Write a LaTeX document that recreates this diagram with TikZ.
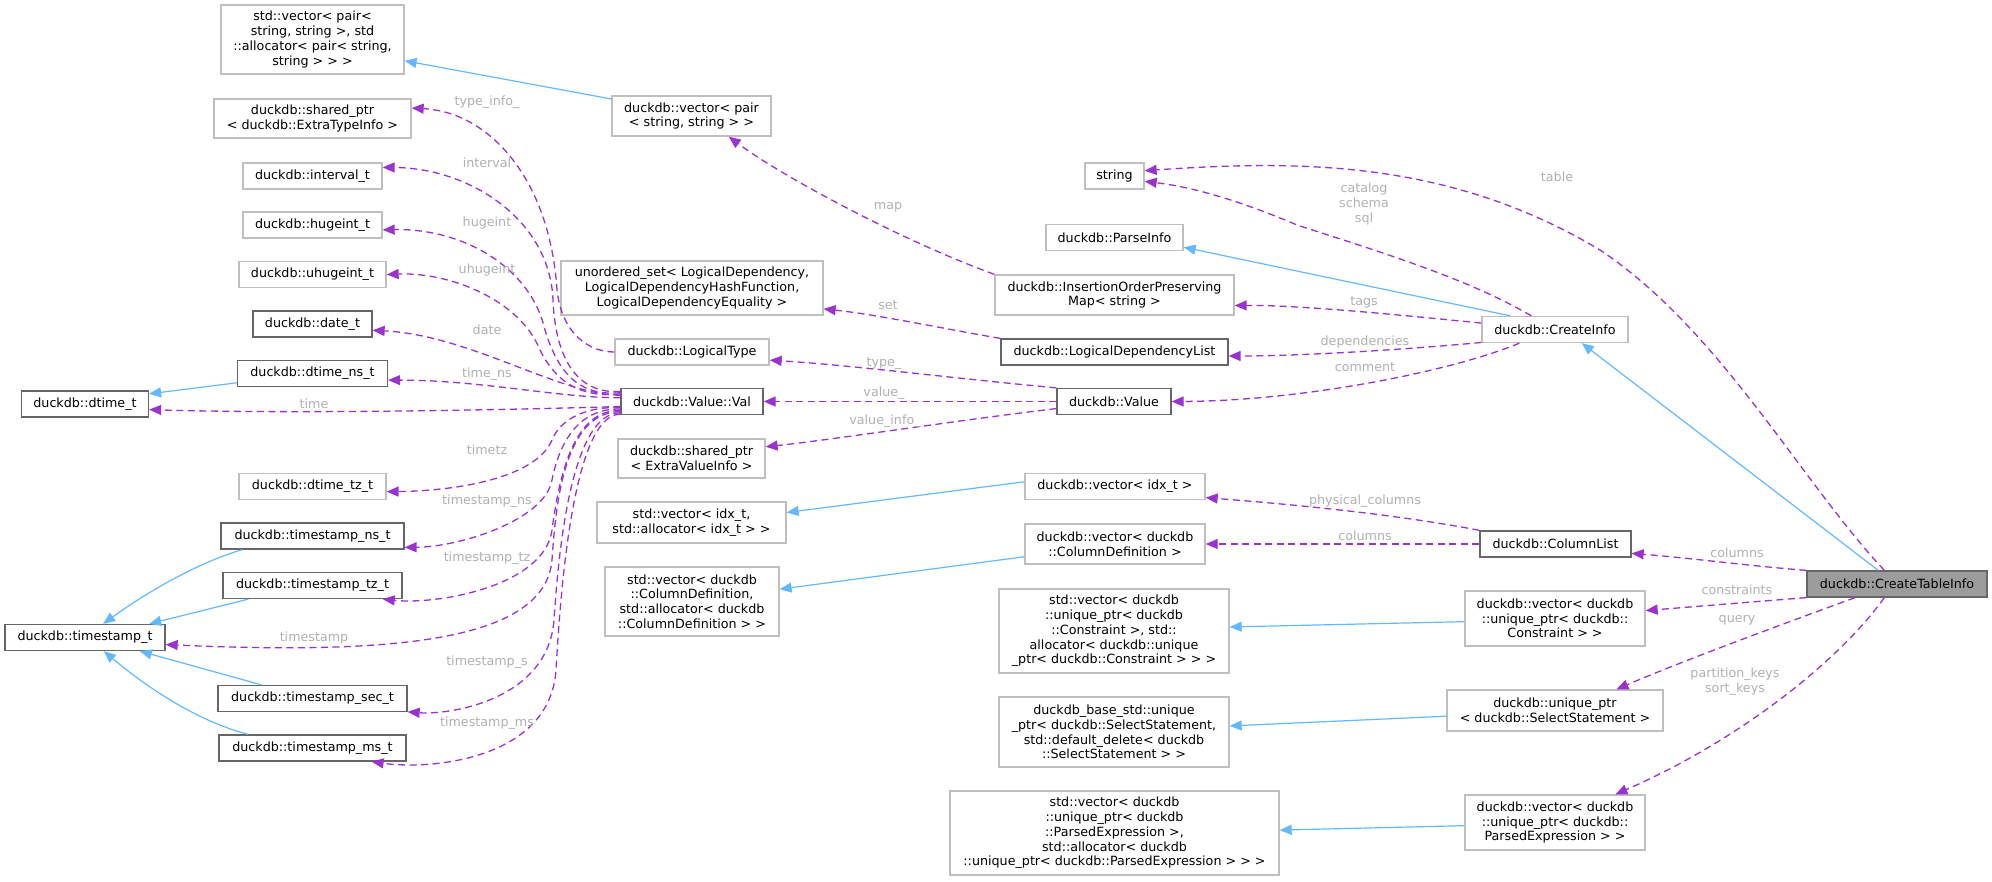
\documentclass[tikz,border=0pt]{standalone}
\usepackage{fontspec}
\setmainfont{DejaVu Sans}
\usetikzlibrary{arrows.meta}
\definecolor{lb}{HTML}{BFBFBF}
\definecolor{db}{HTML}{666666}
\definecolor{pu}{HTML}{9A32CD}
\definecolor{bl}{HTML}{63B8FF}
\definecolor{lbl}{HTML}{B0B0B0}
\begin{document}
\begin{tikzpicture}[x=1pt,y=-1pt,
  every node/.style={font=\fontsize{12.7}{14.7}\selectfont, align=center, inner sep=0pt},
  lt/.style={draw=lb, line width=1.3pt, fill=white},
  dk/.style={draw=db, line width=1.3pt, fill=white},
  tip/.style={-{Triangle[length=12pt,width=10pt]}},
  inh/.style={tip, draw=bl, line width=1.2pt},
  mem/.style={tip, draw=pu, line width=1.3pt, dash pattern=on 7pt off 4.5pt},
  lab/.style={text=lbl}]
\useasboundingbox (0,0) rectangle (1992,881);
% left column
\node[lt, minimum width=183pt, minimum height=69pt] (stdvecpair) at (312.5,39.5) {std::vector< pair<\\string, string >, std\\::allocator< pair< string,\\string > > >};
\node[lt, minimum width=197pt, minimum height=39pt] (sharedET) at (312.5,118.5) {duckdb::shared\_ptr\\< duckdb::ExtraTypeInfo >};
\node[lt, minimum width=139pt, minimum height=26pt] (interval) at (312.5,176) {duckdb::interval\_t};
\node[lt, minimum width=139pt, minimum height=26pt] (hugeint) at (312.5,225) {duckdb::hugeint\_t};
\node[lt, minimum width=147pt, minimum height=26pt] (uhugeint) at (312.5,274.5) {duckdb::uhugeint\_t};
\node[dk, minimum width=119pt, minimum height=26pt] (date) at (312.5,324) {duckdb::date\_t};
\node[dk, minimum width=150pt, minimum height=26pt] (dtimens) at (312.5,373.5) {duckdb::dtime\_ns\_t};
\node[dk, minimum width=127pt, minimum height=26pt] (dtime) at (85,404) {duckdb::dtime\_t};
\node[lt, minimum width=147pt, minimum height=26pt] (dtimetz) at (312.5,486.5) {duckdb::dtime\_tz\_t};
\node[dk, minimum width=183pt, minimum height=26pt] (tsns) at (312.5,536) {duckdb::timestamp\_ns\_t};
\node[dk, minimum width=179pt, minimum height=26pt] (tstz) at (312.5,585.5) {duckdb::timestamp\_tz\_t};
\node[dk, minimum width=160pt, minimum height=26pt] (ts) at (85,637.5) {duckdb::timestamp\_t};
\node[dk, minimum width=189pt, minimum height=26pt] (tssec) at (312.5,698.5) {duckdb::timestamp\_sec\_t};
\node[dk, minimum width=187pt, minimum height=26pt] (tsms) at (312.5,748) {duckdb::timestamp\_ms\_t};
% middle column
\node[lt, minimum width=159pt, minimum height=40pt] (vecpair) at (691.5,116) {duckdb::vector< pair\\< string, string > >};
\node[lt, minimum width=262pt, minimum height=54pt] (uset) at (692,288) {unordered\_set< LogicalDependency,\\LogicalDependencyHashFunction,\\LogicalDependencyEquality >};
\node[lt, minimum width=154pt, minimum height=26pt] (logtype) at (692,352) {duckdb::LogicalType};
\node[dk, minimum width=142pt, minimum height=26pt] (val) at (692,401.5) {duckdb::Value::Val};
\node[lt, minimum width=147pt, minimum height=39pt] (sev) at (691.5,458.5) {duckdb::shared\_ptr\\< ExtraValueInfo >};
\node[lt, minimum width=189pt, minimum height=41pt] (sidx) at (691.5,522.5) {std::vector< idx\_t,\\std::allocator< idx\_t > >};
\node[lt, minimum width=174pt, minimum height=69pt] (scd) at (692,601.5) {std::vector< duckdb\\::ColumnDefinition,\\std::allocator< duckdb\\::ColumnDefinition > >};
% center-right column
\node[lt, minimum width=59pt, minimum height=26pt] (string) at (1114.5,176) {string};
\node[lt, minimum width=137pt, minimum height=26pt] (parse) at (1114.5,237.5) {duckdb::ParseInfo};
\node[lt, minimum width=239pt, minimum height=40pt] (iop) at (1114.5,295) {duckdb::InsertionOrderPreserving\\Map< string >};
\node[dk, minimum width=227pt, minimum height=26pt] (ldl) at (1114.5,352) {duckdb::LogicalDependencyList};
\node[dk, minimum width=114pt, minimum height=26pt] (value) at (1114,401.5) {duckdb::Value};
\node[lt, minimum width=180pt, minimum height=26pt] (vidx) at (1115,486.5) {duckdb::vector< idx\_t >};
\node[lt, minimum width=180pt, minimum height=40pt] (vcd) at (1115,544) {duckdb::vector< duckdb\\::ColumnDefinition >};
\node[lt, minimum width=230pt, minimum height=84pt] (scons) at (1114,631) {std::vector< duckdb\\::unique\_ptr< duckdb\\::Constraint >, std::\\allocator< duckdb::unique\\\_ptr< duckdb::Constraint > > >};
\node[lt, minimum width=230pt, minimum height=70pt] (sbase) at (1114,732) {duckdb\_base\_std::unique\\\_ptr< duckdb::SelectStatement,\\std::default\_delete< duckdb\\::SelectStatement > >};
\node[lt, minimum width=329pt, minimum height=84pt] (spe) at (1114.5,833) {std::vector< duckdb\\::unique\_ptr< duckdb\\::ParsedExpression >,\\std::allocator< duckdb\\::unique\_ptr< duckdb::ParsedExpression > > >};
% right column
\node[lt, minimum width=146pt, minimum height=26pt] (cinfo) at (1555,329.5) {duckdb::CreateInfo};
\node[dk, minimum width=151pt, minimum height=26pt] (cl) at (1555.5,544) {duckdb::ColumnList};
\node[lt, minimum width=180pt, minimum height=55pt] (vcons) at (1555,618.5) {duckdb::vector< duckdb\\::unique\_ptr< duckdb::\\Constraint > >};
\node[lt, minimum width=216pt, minimum height=41pt] (uptr) at (1555,710.5) {duckdb::unique\_ptr\\< duckdb::SelectStatement >};
\node[lt, minimum width=180pt, minimum height=55pt] (vpe) at (1555,822.5) {duckdb::vector< duckdb\\::unique\_ptr< duckdb::\\ParsedExpression > >};
\node[draw=db, line width=1.3pt, fill=db!65, minimum width=180pt, minimum height=26pt] (cti) at (1897,584) {duckdb::CreateTableInfo};

% inheritance
\draw[inh] (vecpair.168) -- (stdvecpair.-13);
\draw[inh] (dtimens.187) -- (dtime.9);
\draw[inh] (tsns.191) .. controls (200,562) and (150,590) .. (ts.37);
\draw[inh] (tstz.192) -- (ts.12);
\draw[inh] (tssec.165) -- (ts.-14);
\draw[inh] (tsms.168) .. controls (200,722) and (150,690) .. (ts.-36);
\draw[inh] (cinfo.163) -- (parse.-8);
\draw[inh] (cti.144) -- (cinfo.-27);
\draw[inh] (vidx.177) -- (sidx.6);
\draw[inh] (vcd.188) -- (scd.8);
\draw[inh] (vcons.182) -- (scons.2);
\draw[inh] (uptr.183) -- (sbase.3);
\draw[inh] (vpe.182) -- (spe.1);

% Val members
\draw[mem] (logtype.west) .. controls (590,352) and (562,335) .. (557,290) .. controls (550,180) and (490,112) .. (sharedET.6);
\draw[mem] (val.172) .. controls (585,394) and (556,370) .. (553,300) .. controls (550,220) and (470,168) .. (interval.7);
\draw[mem] (val.173) .. controls (585,396) and (560,380) .. (545,330) .. controls (530,265) and (460,228) .. (hugeint.-4);
\draw[mem] (val.174) .. controls (590,397) and (560,390) .. (540,350) .. controls (520,300) and (450,272) .. (uhugeint.east);
\draw[mem] (val.175) .. controls (560,395) and (470,335) .. (date.-6);
\draw[mem] (val.177) .. controls (560,398) and (480,380) .. (dtimens.-5);
\draw[mem] (val.184) .. controls (500,410) and (300,414) .. (dtime.-5);
\draw[mem] (val.185) .. controls (585,406) and (560,420) .. (552,440) .. controls (535,480) and (450,491) .. (dtimetz.-4);
\draw[mem] (val.186) .. controls (580,408) and (560,440) .. (552,480) .. controls (545,520) and (460,547) .. (tsns.-7);
\draw[mem] (val.187) .. controls (575,410) and (560,470) .. (552,530) .. controls (545,585) and (440,605) .. (tstz.-11);
\draw[mem] (val.188) .. controls (565,412) and (556,500) .. (552,560) .. controls (545,640) and (400,655) .. (ts.-5);
\draw[mem] (val.189) .. controls (570,412) and (558,560) .. (554,620) .. controls (548,700) and (450,715) .. (tssec.-8);
\draw[mem] (val.190) .. controls (572,414) and (560,600) .. (556,670) .. controls (550,760) and (430,770) .. (tsms.-13);

% other members
\draw[mem] (iop.north west) .. controls (900,240) and (780,175) .. (vecpair.-29);
\draw[mem] (ldl.north west) .. controls (950,330) and (880,315) .. (uset.-9);
\draw[mem] (value.north west) .. controls (950,378) and (850,365) .. (logtype.-6);
\draw[mem] (value.west) -- (val.east);
\draw[mem] (value.187) .. controls (960,420) and (830,440) .. (sev.9);
\draw[mem] (cinfo.175) .. controls (1400,315) and (1300,305) .. (iop.-5);
\draw[mem] (cinfo.190) .. controls (1400,350) and (1300,356) .. (ldl.-2);
\draw[mem] (cinfo.201) .. controls (1450,372) and (1300,401) .. (value.east);
\draw[mem] (cinfo.150) .. controls (1470,280) and (1390,255) .. (1297,225) .. controls (1250,205) and (1200,188) .. (string.-10);
\draw[mem] (cti.133) .. controls (1800,480) and (1720,330) .. (1600,250) .. controls (1450,160) and (1300,160) .. (string.10);
\draw[mem] (cl.north west) .. controls (1400,515) and (1300,505) .. (vidx.-7);
\draw[mem] (cl.west) -- (vcd.east);
\draw[mem] (cti.north west) .. controls (1750,566) and (1690,558) .. (cl.-7);
\draw[mem] (cti.south west) .. controls (1750,602) and (1690,607) .. (vcons.5);
\draw[mem] (cti.198) .. controls (1780,625) and (1680,662) .. (uptr.19.5);
\draw[mem] (cti.227) .. controls (1840,660) and (1740,740) .. (vpe.25);

% labels
\node[lab] (l1) at (487,102) {type\_info\_};
\node[lab] (l2) at (487,163) {interval};
\node[lab] (l3) at (487,223) {hugeint};
\node[lab] (l4) at (487,270) {uhugeint};
\node[lab] (l5) at (487,330) {date};
\node[lab] (l6) at (487,374) {time\_ns};
\node[lab] (l7) at (314,404) {time};
\node[lab] (l8) at (487,450) {timetz};
\node[lab] (l9) at (487,501) {timestamp\_ns};
\node[lab] (l10) at (487,558) {timestamp\_tz};
\node[lab] (l11) at (314,638) {timestamp};
\node[lab] (l12) at (487,662) {timestamp\_s};
\node[lab] (l13) at (487,723) {timestamp\_ms};
\node[lab] (l14) at (888,207) {map};
\node[lab] (l15) at (888,305) {set};
\node[lab] (l16) at (884,364) {type\_};
\node[lab] (l17) at (884,393) {value\_};
\node[lab] (l18) at (885,421) {value\_info\_};
\node[lab] (l19) at (1364,204) {catalog\\schema\\sql};
\node[lab] (l20) at (1364,302) {tags};
\node[lab] (l21) at (1365,342) {dependencies};
\node[lab] (l22) at (1365,367) {comment};
\node[lab] (l23) at (1557,177) {table};
\node[lab] (l24) at (1365,501) {physical\_columns};
\node[lab] (l25) at (1365,536) {columns};
\node[lab] (l26) at (1737,553) {columns};
\node[lab] (l27) at (1737,590) {constraints};
\node[lab] (l28) at (1737,620) {query};
\node[lab] (l29) at (1735,682) {partition\_keys\\sort\_keys};
\end{tikzpicture}
\end{document}
